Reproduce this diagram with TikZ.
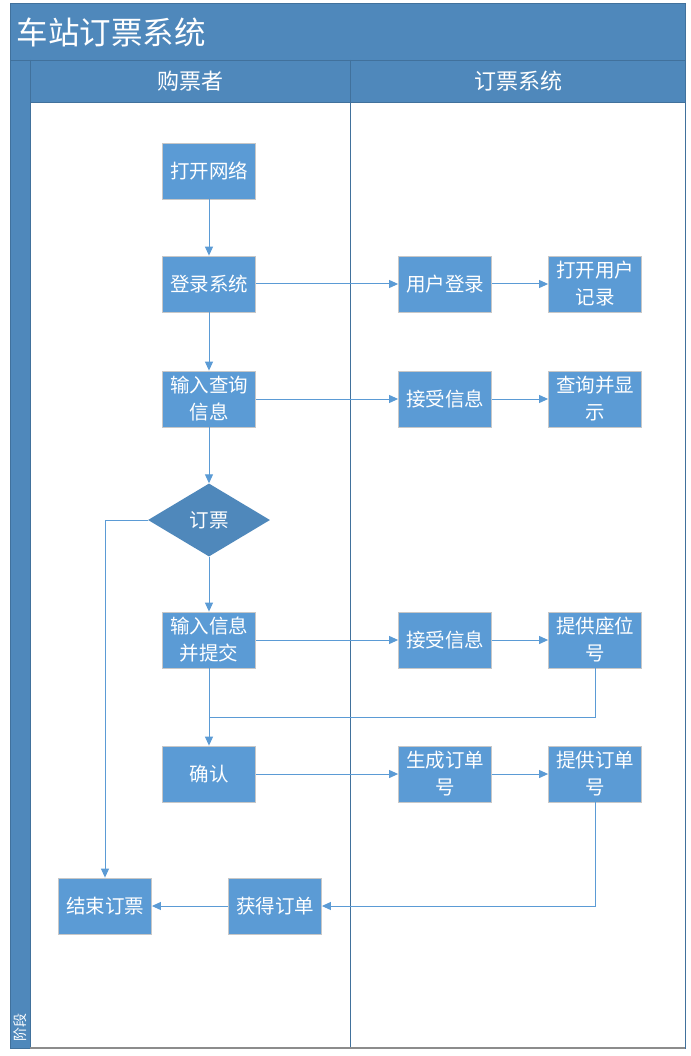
\documentclass[tikz,border=0pt]{standalone}
\usepackage{fontspec}
\setmainfont{Noto Sans CJK SC}
\usetikzlibrary{shapes.geometric,arrows.meta}
\definecolor{laneblue}{HTML}{4F88BB}
\definecolor{edgeblue}{HTML}{41719C}
\definecolor{boxblue}{HTML}{5B9BD5}
\definecolor{lineblue}{HTML}{5B9BD5}
\begin{document}
\begin{tikzpicture}[x=1pt,y=-1pt,
    stepbox/.style={draw=black!22, line width=0.8pt, fill=boxblue, text=white,
        minimum width=93pt, minimum height=56pt, inner sep=1pt, align=center,
        font=\fontsize{19.5}{27}\selectfont},
    decision/.style={diamond, aspect=1.67, fill=laneblue, text=white,
        minimum width=122pt, minimum height=73pt, inner sep=0pt,
        font=\fontsize{19.5}{24}\selectfont},
    flow/.style={draw=lineblue, line width=1pt, -{Triangle[length=9pt,width=8pt]}},
    plain/.style={draw=lineblue, line width=1pt}]
            \useasboundingbox (0,0) rectangle (690,1056);

            % frame, title bar and lane headers
            \fill[white] (10,3) rectangle (685,1048);
            \fill[laneblue] (10,3) rectangle (685,102);
            \fill[laneblue] (10,3) rectangle (30,1048);
            \draw[edgeblue, line width=0.8pt] (10,60) -- (685,60);
            \draw[edgeblue, line width=0.8pt] (30,60) -- (30,1048);
            \draw[edgeblue, line width=0.8pt] (30,102) -- (685,102);
            \draw[edgeblue, line width=1pt] (350,60) -- (350,1048);
            \draw[edgeblue, line width=0.8pt] (10,3) rectangle (685,1048);
            \draw[black!45, line width=1.2pt] (30,1048) -- (685,1048);

            \node[anchor=west, text=white, font=\fontsize{31.5}{36}\selectfont] (title) at (13,32) {车站订票系统};
            \node[text=white, font=\fontsize{22}{26}\selectfont] (buyer) at (190,81) {购票者};
            \node[text=white, font=\fontsize{22}{26}\selectfont] (system) at (518,81) {订票系统};
            \node[rotate=90, anchor=west, text=white, font=\fontsize{14}{16}\selectfont] (stage) at (20,1045) {阶段};

            % buyer lane
            \node[stepbox] (net) at (209,171) {打开网络};
            \node[stepbox] (login) at (209,284) {登录系统};
            \node[stepbox] (query) at (209,399) {输入查询\\信息};
            \node[decision] (book) at (209,520) {订票};
            \node[stepbox] (submit) at (209,640) {输入信息\\并提交};
            \node[stepbox] (confirm) at (209,774) {确认};
            \node[stepbox] (finish) at (105,906) {结束订票};
            \node[stepbox] (order) at (275,906) {获得订单};

            % system lane
            \node[stepbox] (userlogin) at (445,284) {用户登录};
            \node[stepbox] (record) at (595,284) {打开用户\\记录};
            \node[stepbox] (recv1) at (445,399) {接受信息};
            \node[stepbox] (show) at (595,399) {查询并显\\示};
            \node[stepbox] (recv2) at (445,640) {接受信息};
            \node[stepbox] (seat) at (595,640) {提供座位\\号};
            \node[stepbox] (make) at (445,774) {生成订单\\号};
            \node[stepbox] (give) at (595,774) {提供订单\\号};

            \coordinate (join) at (209,717);

            % connectors
            \draw[flow] (net) -- (login);
            \draw[flow] (login) -- (query);
            \draw[flow] (query) -- (book);
            \draw[flow] (book) -- (submit);
            \draw[flow] (submit) -- (confirm);
            \draw[flow] (book.west) -| (finish.north);

            \draw[flow] (login) -- (userlogin);
            \draw[flow] (userlogin) -- (record);
            \draw[flow] (query) -- (recv1);
            \draw[flow] (recv1) -- (show);
            \draw[flow] (submit) -- (recv2);
            \draw[flow] (recv2) -- (seat);
            \draw[flow] (confirm) -- (make);
            \draw[flow] (make) -- (give);

            \draw[plain] (seat.south) |- (join);
            \draw[flow] (give.south) |- (order.east);
            \draw[flow] (order) -- (finish);
        \end{tikzpicture}
\end{document}
